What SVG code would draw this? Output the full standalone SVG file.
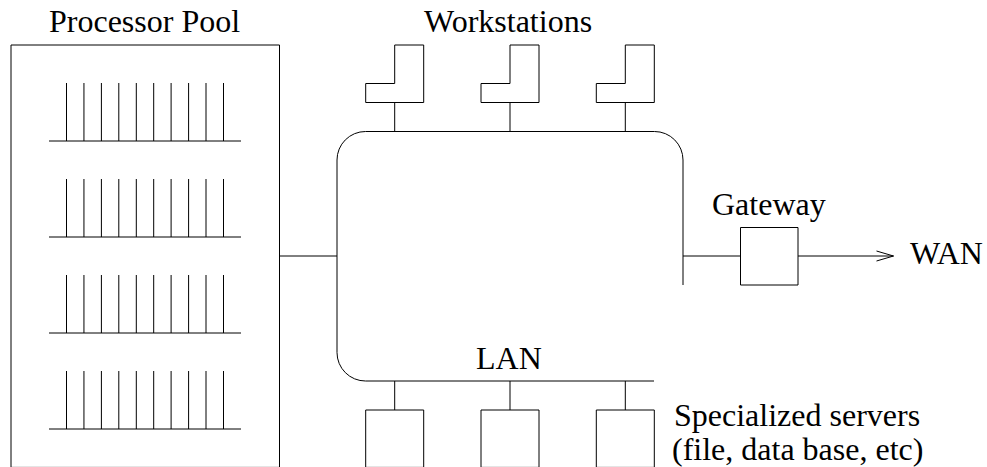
<svg xmlns="http://www.w3.org/2000/svg" width="987" height="467" viewBox="0 0 987 467">
<style>
.l{fill:none;stroke:#000;stroke-width:1}
text{font-family:"Liberation Serif","Times New Roman",serif;font-size:32px;fill:#000}
</style>
<defs>
<g id="comb">
<path class="l" d="M66.500 0V58M83.940 0V58M101.400 0V58M118.800 0V58M136.300 0V58M153.700 0V58M171.100 0V58M188.600 0V58M206 0V58M223.500 0V58"/>
<path class="l" d="M49 58H241"/>
</g>
<path id="ws" class="l" d="M29 0H58V57.500H0V38.500H29Z"/>
</defs>
<rect width="987" height="467" fill="#fff"/>
<g id="connectors">
<path class="l" d="M279.500 256H337"/>
<path class="l" d="M394.700 102.500V131.500M510 102.500V131.500M625.300 102.500V131.500"/>
<path class="l" d="M394.700 381V410M510 381V410M625.300 381V410"/>
<path class="l" d="M683 256H740.500"/>
<path class="l" d="M798 256H893.500M876.500 251L893.500 256L876.500 261"/>
</g>
<g id="processor-pool">
<path class="l" d="M11 467.400V45H279.500V467.400Z"/>
<use href="#comb" y="83"/>
<use href="#comb" y="179"/>
<use href="#comb" y="275"/>
<use href="#comb" y="371"/>
<text x="49" y="32">Processor Pool</text>
</g>
<g id="workstations">
<use href="#ws" x="365.700" y="45"/>
<use href="#ws" x="481" y="45"/>
<use href="#ws" x="596.300" y="45"/>
<text x="424" y="32">Workstations</text>
</g>
<g id="lan">
<path class="l" d="M683 285V160A28.500 28.500 0 0 0 654.500 131.500H365.500A28.500 28.500 0 0 0 337 160V352.500A28.500 28.500 0 0 0 365.500 381H654"/>
<text x="476" y="369">LAN</text>
</g>
<g id="gateway">
<path class="l" d="M740.500 227.500H798V285H740.500Z"/>
<text x="712" y="215">Gateway</text>
</g>
<text id="wan" x="910" y="264">WAN</text>
<g id="servers">
<path class="l" d="M365.700 467.400V410H423.700V467.400Z"/>
<path class="l" d="M481 467.400V410H539V467.400Z"/>
<path class="l" d="M596.300 467.400V410H654.300V467.400Z"/>
<text x="674" y="426">Specialized servers</text>
<text x="672" y="460">(file, data base, etc)</text>
</g>
</svg>
